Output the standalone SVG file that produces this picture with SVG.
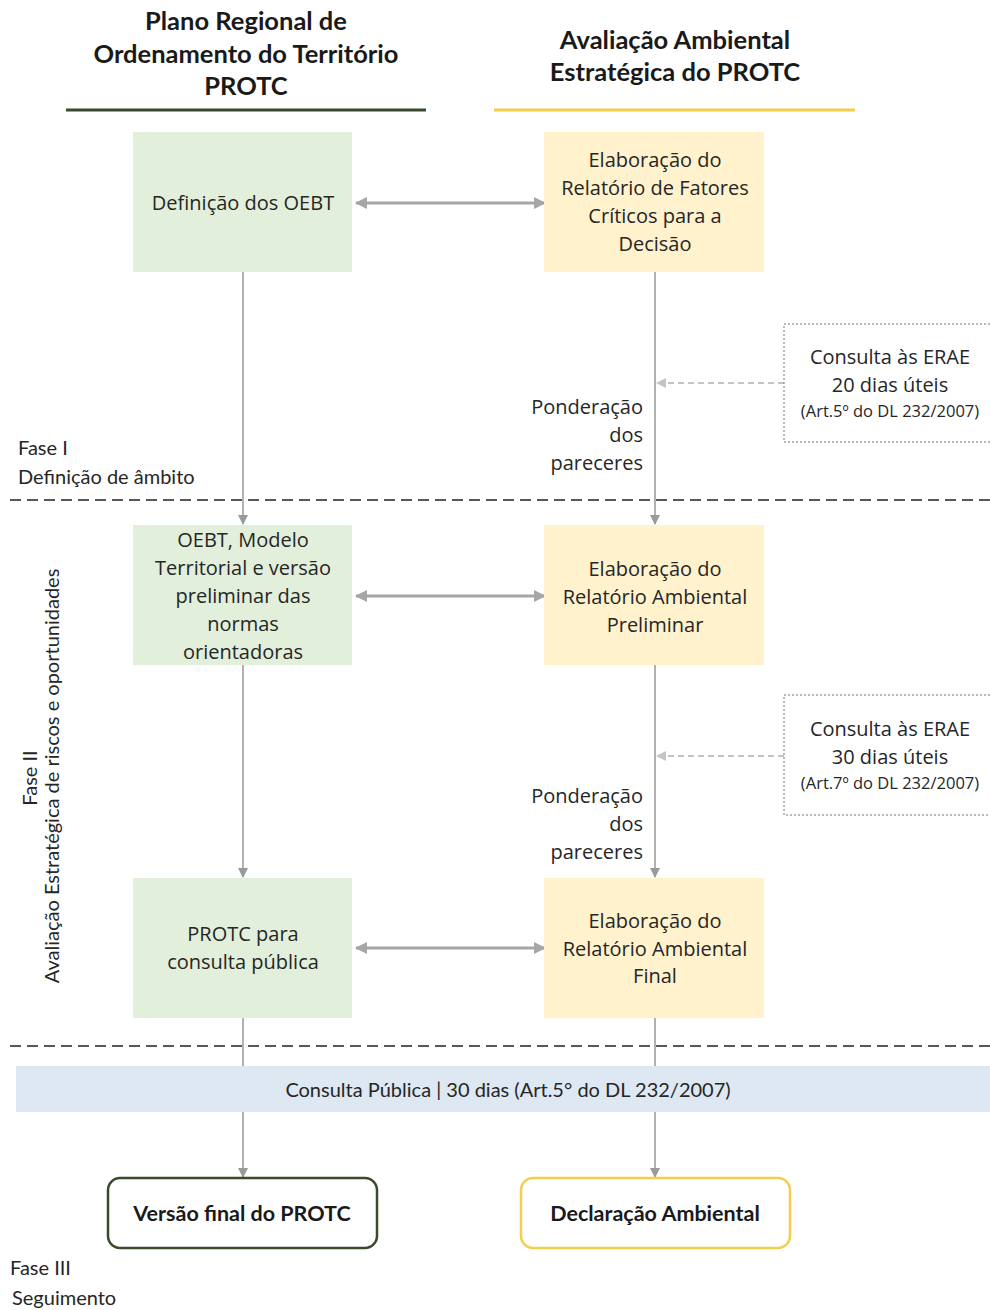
<svg xmlns="http://www.w3.org/2000/svg" width="990" height="1310" viewBox="0 0 990 1310">
<style>
.hd{font-family:Lato,"Liberation Sans",sans-serif;font-weight:bold;font-size:25.5px;fill:#1a1a1a;text-anchor:middle}
.bx{font-family:"Open Sans","Noto Sans",sans-serif;font-size:20px;fill:#262626;text-anchor:middle}
.rt{font-family:"Open Sans","Noto Sans",sans-serif;font-size:20px;fill:#262626;text-anchor:end}
.lb{font-family:Lato,"Liberation Sans",sans-serif;font-size:20px;fill:#262626}
.sm{font-family:"Open Sans","Noto Sans",sans-serif;font-size:16.5px;fill:#262626;text-anchor:middle}
.g{fill:#e2efda}
.y{fill:#fff2cc}
.vl{stroke:#999;stroke-width:1.5;fill:none}
.dbl{stroke:#a6a6a6;stroke-width:3;fill:none}
.dsh{stroke:#222;stroke-width:1.5;stroke-dasharray:11,6;fill:none}
.dar{stroke:#c4c4c4;stroke-width:2;stroke-dasharray:6,4;fill:none}
.dbox{fill:#fff;stroke:#777;stroke-width:1;stroke-dasharray:2,2}
</style>
<defs>
<marker id="ah" markerWidth="10" markerHeight="10" refX="9" refY="5" orient="auto" markerUnits="userSpaceOnUse"><path d="M0,0 L10,5 L0,10 z" fill="#9a9a9a"/></marker>
<marker id="ahb" markerWidth="12" markerHeight="12" refX="11" refY="6" orient="auto" markerUnits="userSpaceOnUse"><path d="M0,0 L12,6 L0,12 z" fill="#a6a6a6"/></marker>
<marker id="ahs" markerWidth="12" markerHeight="12" refX="1" refY="6" orient="auto" markerUnits="userSpaceOnUse"><path d="M12,0 L0,6 L12,12 z" fill="#a6a6a6"/></marker>
<marker id="ahl" markerWidth="10" markerHeight="10" refX="9" refY="5" orient="auto" markerUnits="userSpaceOnUse"><path d="M0,0 L10,5 L0,10 z" fill="#c4c4c4"/></marker>
</defs>
<rect width="990" height="1310" fill="#fff"/>

<g id="headers">
<text class="hd" x="246" y="30">Plano Regional de</text>
<text class="hd" x="246" y="63">Ordenamento do Território</text>
<text class="hd" x="246" y="95">PROTC</text>
<line x1="66" y1="110" x2="426" y2="110" stroke="#3b4a2c" stroke-width="3"/>
<text class="hd" x="675" y="49">Avaliação Ambiental</text>
<text class="hd" x="675" y="81">Estratégica do PROTC</text>
<line x1="494" y1="110" x2="855" y2="110" stroke="#f2cf4a" stroke-width="3"/>
</g>

<g id="phases">
<line class="dsh" x1="10" y1="500" x2="990" y2="500"/>
<line class="dsh" x1="10" y1="1046" x2="990" y2="1046"/>
<text class="lb" x="18" y="455">Fase I</text>
<text class="lb" x="18" y="484">Definição de âmbito</text>
<text class="lb" transform="translate(37,778) rotate(-90)" text-anchor="middle">Fase II</text>
<text class="lb" transform="translate(59,776) rotate(-90)" text-anchor="middle">Avaliação Estratégica de riscos e oportunidades</text>
<text class="lb" x="10" y="1275">Fase III</text>
<text class="lb" x="12" y="1305">Seguimento</text>
</g>

<g id="consulta-publica">
<rect x="16" y="1066" width="974" height="46" fill="#dde8f3"/>
</g>

<g id="connectors">
<line class="vl" x1="243" y1="272" x2="243" y2="524" marker-end="url(#ah)"/>
<line class="vl" x1="655" y1="272" x2="655" y2="524" marker-end="url(#ah)"/>
<line class="vl" x1="243" y1="665" x2="243" y2="877" marker-end="url(#ah)"/>
<line class="vl" x1="655" y1="665" x2="655" y2="877" marker-end="url(#ah)"/>
<line class="vl" x1="243" y1="1018" x2="243" y2="1066"/>
<line class="vl" x1="655" y1="1018" x2="655" y2="1066"/>
<line class="vl" x1="243" y1="1112" x2="243" y2="1177" marker-end="url(#ah)"/>
<line class="vl" x1="655" y1="1112" x2="655" y2="1177" marker-end="url(#ah)"/>
<line class="dbl" x1="356" y1="203" x2="545" y2="203" marker-start="url(#ahs)" marker-end="url(#ahb)"/>
<line class="dbl" x1="356" y1="596" x2="545" y2="596" marker-start="url(#ahs)" marker-end="url(#ahb)"/>
<line class="dbl" x1="356" y1="948" x2="545" y2="948" marker-start="url(#ahs)" marker-end="url(#ahb)"/>
<line class="dar" x1="784" y1="383" x2="657" y2="383" marker-end="url(#ahl)"/>
<line class="dar" x1="784" y1="756" x2="657" y2="756" marker-end="url(#ahl)"/>
</g>

<g id="cp-text">
<text class="lb" x="508" y="1097" text-anchor="middle">Consulta Pública | 30 dias (Art.5° do DL 232/2007)</text>
</g>

<g id="n-oebt">
<rect class="g" x="133" y="132" width="219" height="140"/>
<text class="bx" x="243" y="210">Definição dos OEBT</text>
</g>
<g id="n-rfcd">
<rect class="y" x="544" y="132" width="220" height="140"/>
<text class="bx" x="655" y="167">Elaboração do</text>
<text class="bx" x="655" y="195">Relatório de Fatores</text>
<text class="bx" x="655" y="223">Críticos para a</text>
<text class="bx" x="655" y="251">Decisão</text>
</g>
<g id="n-erae1">
<rect class="dbox" x="784" y="324" width="210" height="118"/>
<text class="bx" x="890" y="364">Consulta às ERAE</text>
<text class="bx" x="890" y="392">20 dias úteis</text>
<text class="sm" x="890" y="417">(Art.5º do DL 232/2007)</text>
</g>
<g id="n-pond1">
<text class="rt" x="643" y="414">Ponderação</text>
<text class="rt" x="643" y="442">dos</text>
<text class="rt" x="643" y="470">pareceres</text>
</g>
<g id="n-modelo">
<rect class="g" x="133" y="525" width="219" height="140"/>
<text class="bx" x="243" y="547">OEBT, Modelo</text>
<text class="bx" x="243" y="575">Territorial e versão</text>
<text class="bx" x="243" y="603">preliminar das</text>
<text class="bx" x="243" y="631">normas</text>
<text class="bx" x="243" y="659">orientadoras</text>
</g>
<g id="n-rap">
<rect class="y" x="544" y="525" width="220" height="140"/>
<text class="bx" x="655" y="576">Elaboração do</text>
<text class="bx" x="655" y="604">Relatório Ambiental</text>
<text class="bx" x="655" y="632">Preliminar</text>
</g>
<g id="n-erae2">
<rect class="dbox" x="784" y="695" width="210" height="120"/>
<text class="bx" x="890" y="736">Consulta às ERAE</text>
<text class="bx" x="890" y="764">30 dias úteis</text>
<text class="sm" x="890" y="789">(Art.7º do DL 232/2007)</text>
</g>
<g id="n-pond2">
<text class="rt" x="643" y="803">Ponderação</text>
<text class="rt" x="643" y="831">dos</text>
<text class="rt" x="643" y="859">pareceres</text>
</g>
<g id="n-protc-cp">
<rect class="g" x="133" y="878" width="219" height="140"/>
<text class="bx" x="243" y="941">PROTC para</text>
<text class="bx" x="243" y="969">consulta pública</text>
</g>
<g id="n-raf">
<rect class="y" x="544" y="878" width="220" height="140"/>
<text class="bx" x="655" y="928">Elaboração do</text>
<text class="bx" x="655" y="956">Relatório Ambiental</text>
<text class="bx" x="655" y="983">Final</text>
</g>
<g id="n-versao">
<rect x="108" y="1178" width="269" height="70" rx="12" fill="#fff" stroke="#3b4a2c" stroke-width="2.5"/>
<text class="hd" x="242" y="1221" style="font-size:21.5px">Versão final do PROTC</text>
</g>
<g id="n-declaracao">
<rect x="521" y="1178" width="269" height="70" rx="12" fill="#fff" stroke="#f2cf4a" stroke-width="2.5"/>
<text class="hd" x="655" y="1221" style="font-size:21.5px">Declaração Ambiental</text>
</g>
</svg>
